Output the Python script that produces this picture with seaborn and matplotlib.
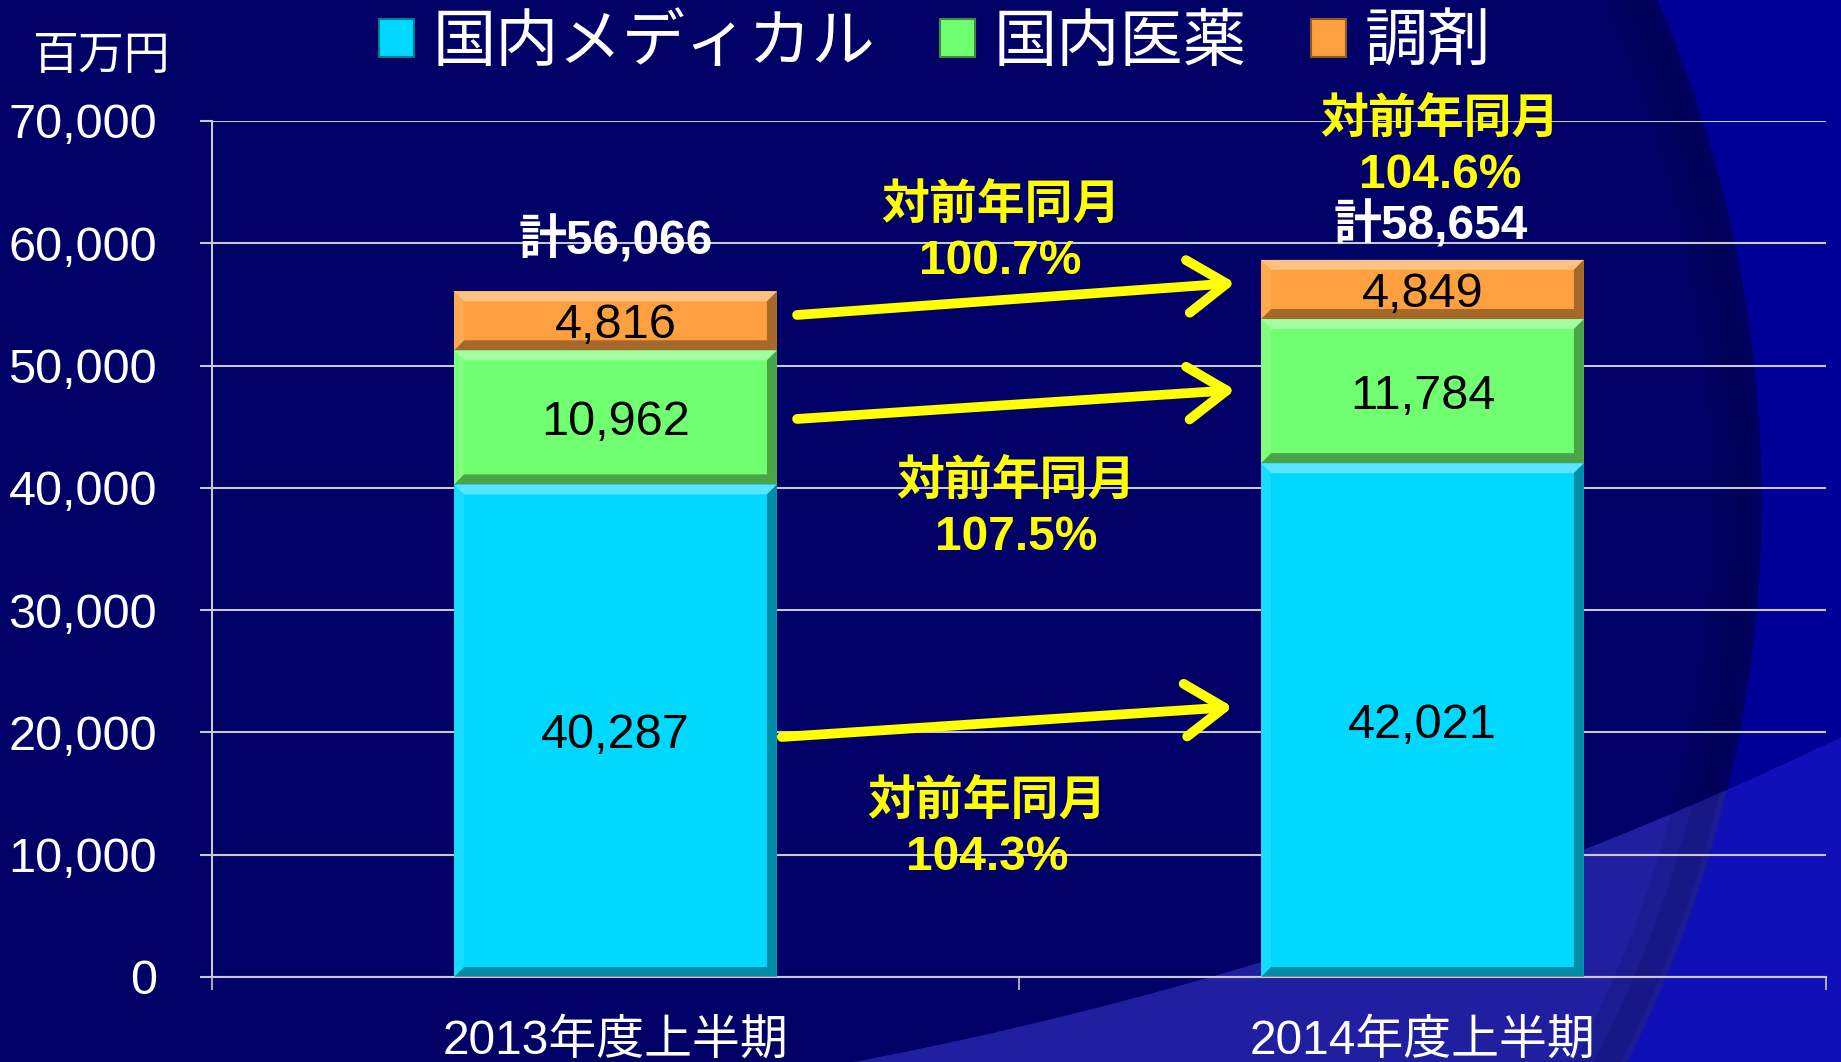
import numpy as np
import pandas as pd
import matplotlib
matplotlib.use('Agg')
import matplotlib.pyplot as plt
import seaborn as sns
from matplotlib.patches import Polygon, Circle, Rectangle, Patch
from matplotlib.ticker import MultipleLocator, FuncFormatter

# 1. データ
periods = ['2013年度上半期', '2014年度上半期']
series = ['国内メディカル', '国内医薬', '調剤']
medical = [40287, 42021]
pharma = [10962, 11784]
dispensing = [4816, 4849]
totals = [56066, 58654]
yoy_medical = '対前年同月\n104.3%'
yoy_pharma = '対前年同月\n107.5%'
yoy_dispensing = '対前年同月\n100.7%'
yoy_total = '対前年同月\n104.6%'
unit_label = '百万円'

colors = ['#00d8ff', '#70ff70', '#ffa040']
edge_dark = ['#007a90', '#3c8c3c', '#8c5a24']

# 2. 테마/폰트
sns.set_theme(style='white')
plt.rcParams['font.family'] = ['Liberation Sans', 'Noto Sans CJK JP']

W, H = 1841, 1062
fig = plt.figure(figsize=(W / 100, H / 100), dpi=100)
fig.patch.set_facecolor('#000066')
inch = fig.dpi_scale_trans


def P(x, y):
    # 픽셀 좌표(위에서 아래) -> 인치 좌표
    return (x / 100, (H - y) / 100)


# 3. 배경 장식
fig.add_artist(Rectangle((0, 0), W / 100, H / 100, transform=inch,
                         color='#000099', zorder=-6))
big = Circle(P(511, 500), 1250 / 100, transform=inch, color='#000066', zorder=-5)
fig.add_artist(big)

xs = np.linspace(840, 1860, 80)
ys = -2892 + np.sqrt(4026 ** 2 - (xs - 100) ** 2)
pts = [P(x, y) for x, y in zip(xs, ys)] + [P(1860, 1080), P(840, 1080)]
fig.add_artist(Polygon(pts, closed=True, transform=inch, color='#1010b8', zorder=-4))
wedge_in = Polygon(pts, closed=True, transform=inch, color='#1f1fa0', zorder=-3)
fig.add_artist(wedge_in)
wedge_in.set_clip_path(big)
for k, a in enumerate([0.12, 0.12, 0.12]):
    r = 1250 - 6 - 12 * k
    fig.add_artist(Circle(P(511, 500), r / 100, transform=inch, fill=False,
                          edgecolor='#000030', lw=(12 + 12 * k) * 0.72, alpha=a,
                          zorder=-2))

# 4. 축
ax = fig.add_axes([212 / W, 1 - 977 / H, (1826 - 212) / W, (977 - 121) / H])
ax.patch.set_alpha(0)

df = pd.DataFrame({'period': periods, 'medical': medical,
                   'pharma': pharma, 'dispensing': dispensing})
df['pharma_top'] = df['medical'] + df['pharma']
df['top'] = df['pharma_top'] + df['dispensing']

bw = 0.4
for col, c in zip(['top', 'pharma_top', 'medical'], colors[::-1]):
    sns.barplot(data=df, x='period', y=col, color=c, width=bw, saturation=1,
                errorbar=None, linewidth=0, ax=ax, zorder=2)

ax.set_xlim(-0.5, 1.5)
ax.set_ylim(0, 70000)

# 베벨 효과
bx = 10 / 807
by = 10 * 70000 / 856
for i in range(len(periods)):
    x0, x1 = i - bw / 2, i + bw / 2
    bounds = [(0, df['medical'][i]), (df['medical'][i], df['pharma_top'][i]),
              (df['pharma_top'][i], df['top'][i])]
    for (y0, y1) in bounds:
        ax.add_patch(Polygon([(x0, y1), (x1, y1), (x1 - bx, y1 - by), (x0 + bx, y1 - by)],
                             color='white', alpha=0.35, lw=0, zorder=3))
        ax.add_patch(Polygon([(x0, y0), (x1, y0), (x1 - bx, y0 + by), (x0 + bx, y0 + by)],
                             color='black', alpha=0.35, lw=0, zorder=3))
        ax.add_patch(Polygon([(x1, y0), (x1, y1), (x1 - bx, y1 - by), (x1 - bx, y0 + by)],
                             color='black', alpha=0.35, lw=0, zorder=3))
        ax.add_patch(Polygon([(x0, y0), (x0, y1), (x0 + bx, y1 - by), (x0 + bx, y0 + by)],
                             color='white', alpha=0.1, lw=0, zorder=3))
        ax.text(i, (y0 + y1) / 2, f'{int(round(y1 - y0)):,}', ha='center',
                va='center_baseline', fontsize=35, color='black', zorder=4)

# 합계 라벨
for i, (t, dx, dy) in enumerate(zip(totals, [0.0, 0.01], [4170, 2800])):
    ax.text(i + dx, t + dy, f'計{t:,}', ha='center', va='center', fontsize=34.5,
            fontweight='bold', color='white', zorder=4)

# 전년 대비 라벨
yoy_kw = dict(ha='center', va='center', fontsize=34.5, fontweight='bold',
              color='#ffff00', linespacing=1.3, zorder=4)
ax.text(0.477, 60800, yoy_dispensing, **yoy_kw)
ax.text(0.496, 38180, yoy_pharma, **yoy_kw)
ax.text(0.46, 12060, yoy_medical, **yoy_kw)
ax.text(1.022, 67800, yoy_total, **yoy_kw)

# 화살표
arrow_kw = dict(arrowstyle='->,head_length=2.8,head_width=1.9', color='#ffff00',
                lw=7, mutation_scale=10, shrinkA=0, shrinkB=0, capstyle='round')
for (sx, sy), (ex, ey) in [((0.225, 54138), (0.768, 56755)),
                           ((0.225, 45633), (0.768, 48005)),
                           ((0.206, 19627), (0.765, 22081))]:
    ax.annotate('', xy=(ex, ey), xytext=(sx, sy), arrowprops=arrow_kw, zorder=5)

# 5. 눈금/그리드
grid_c = '#c8c8d0'
ax.yaxis.set_major_locator(MultipleLocator(10000))
ax.yaxis.set_major_formatter(FuncFormatter(lambda v, p: f'{int(v):,}'))
ax.grid(axis='y', color=grid_c, lw=1.5)
ax.grid(axis='x', visible=False)
ax.set_axisbelow(True)
ax.tick_params(axis='y', left=True, length=8.6, width=1.5, color=grid_c,
               labelcolor='white', labelsize=35, pad=31)
ax.set_xticks([0, 1])
ax.set_xticklabels(periods)
ax.set_xticks([-0.5, 0.5, 1.5], minor=True)
ax.tick_params(axis='x', which='major', bottom=False, length=0, labelcolor='white',
               labelsize=34.5, pad=30)
ax.tick_params(axis='x', which='minor', bottom=True, length=9.4, width=1.2, color=grid_c)
ax.set_xlabel('')
ax.set_ylabel('')
for s in ['top', 'right']:
    ax.spines[s].set_visible(False)
for s in ['left', 'bottom']:
    ax.spines[s].set_color(grid_c)
    ax.spines[s].set_linewidth(1.5)

fig.text(101 / W, 1 - 57 / H, unit_label, ha='center', va='center',
         fontsize=33, color='white')

# 6. 범례
handles = [Patch(facecolor=c, edgecolor=e, lw=1.5) for c, e in zip(colors, edge_dark)]
fig.legend(handles, series, loc='center', bbox_to_anchor=(935 / W, 1 - 44 / H),
           ncol=3, frameon=False, fontsize=45.5, labelcolor='white',
           handlelength=0.55, handleheight=0.55, handletextpad=0.3,
           columnspacing=1.02, borderpad=0, borderaxespad=0)

fig.savefig('out.png', dpi=100, facecolor=fig.get_facecolor())
